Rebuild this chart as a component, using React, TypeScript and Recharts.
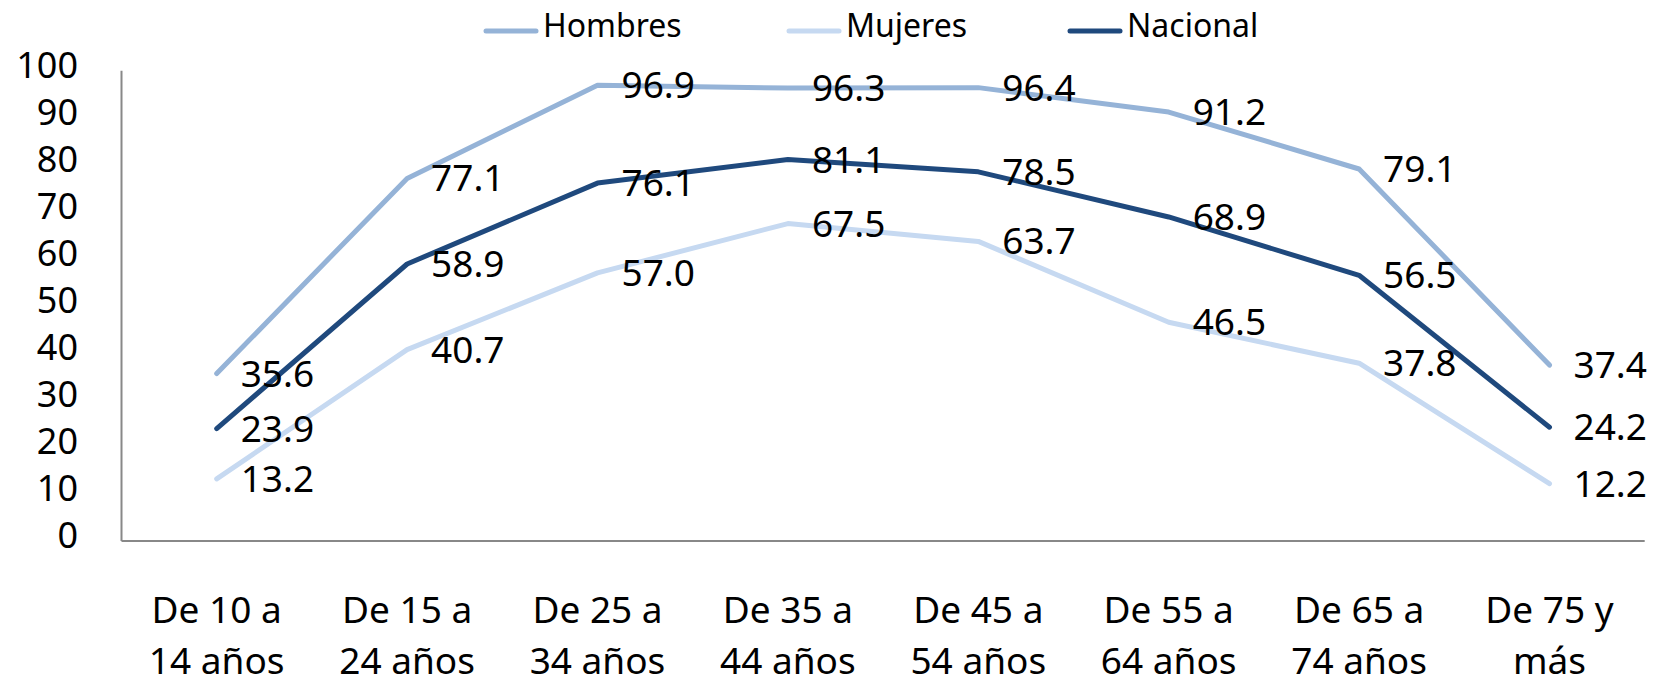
import React from "react";
import { LineChart, Line, XAxis, YAxis, LabelList } from "recharts";

const categories = [
  "De 10 a 14 años",
  "De 15 a 24 años",
  "De 25 a 34 años",
  "De 35 a 44 años",
  "De 45 a 54 años",
  "De 55 a 64 años",
  "De 65 a 74 años",
  "De 75 y más",
];
const tickLines: [string, string][] = [
  ["De 10 a", "14 años"],
  ["De 15 a", "24 años"],
  ["De 25 a", "34 años"],
  ["De 35 a", "44 años"],
  ["De 45 a", "54 años"],
  ["De 55 a", "64 años"],
  ["De 65 a", "74 años"],
  ["De 75 y", "más"],
];
const hombres = [35.6, 77.1, 96.9, 96.3, 96.4, 91.2, 79.1, 37.4];
const mujeres = [13.2, 40.7, 57.0, 67.5, 63.7, 46.5, 37.8, 12.2];
const nacional = [23.9, 58.9, 76.1, 81.1, 78.5, 68.9, 56.5, 24.2];
const yTicks = [0, 10, 20, 30, 40, 50, 60, 70, 80, 90, 100];

const series = [
  { key: "Hombres", values: hombres, color: "#95B3D7" },
  { key: "Mujeres", values: mujeres, color: "#C6D9F1" },
  { key: "Nacional", values: nacional, color: "#1F497D" },
];

const data = categories.map((name, i) => {
  const row: Record<string, string | number> = { name, idx: i };
  series.forEach((s) => (row[s.key] = s.values[i]));
  return row;
});

const FONT = "'Noto Sans', sans-serif";
const W = 1654;
const H = 685;

const YTick = (props: any) => {
  const { x, y, payload } = props;
  return (
    <text x={x - 43.5} y={y + 7} textAnchor="end" fontSize={36} fontFamily={FONT} fill="#000">
      {payload.value}
    </text>
  );
};

const XTick = (props: any) => {
  const { x, y, index } = props;
  const lines = tickLines[index] || ["", ""];
  return (
    <text textAnchor="middle" fontSize={37} fontFamily={FONT} fill="#000">
      <tspan x={x} y={y + 82}>{lines[0]}</tspan>
      <tspan x={x} y={y + 133}>{lines[1]}</tspan>
    </text>
  );
};

const ValueLabel = (props: any) => {
  const { x, y, value } = props;
  return (
    <text x={x + 24} y={y + 13} textAnchor="start" fontSize={37} fontFamily={FONT} fill="#000">
      {Number(value).toFixed(1)}
    </text>
  );
};

const legendX = [483, 786, 1067];

function LegendOverlay() {
  return (
    <svg width={W} height={60} style={{ position: "absolute", left: 0, top: 0 }}>
      {series.map((s, i) => (
        <g key={s.key}>
          <line
            x1={legendX[i] + 3}
            x2={legendX[i] + 53}
            y1={31}
            y2={31}
            stroke={s.color}
            strokeWidth={5}
            strokeLinecap="round"
          />
          <text x={legendX[i] + 60} y={37} fontSize={32} fontFamily={FONT} fill="#000">
            {s.key}
          </text>
        </g>
      ))}
    </svg>
  );
}

export default function App() {
  return (
    <div style={{ position: "absolute", left: 0, top: 0, width: W, height: H, background: "#fff" }}>
      <LineChart
        width={W}
        height={H}
        data={data}
        margin={{ top: 70.7, right: 9.3, bottom: 0, left: 0 }}
      >
        <XAxis
          dataKey="name"
          height={144}
          padding={{ left: 95.2, right: 95.2 }}
          axisLine={{ stroke: "#888888", strokeWidth: 2 }}
          tickLine={false}
          tickSize={0}
          tickMargin={0}
          interval={0}
          tick={<XTick />}
        />
        <YAxis
          width={121.5}
          domain={[0, 100]}
          ticks={yTicks}
          axisLine={{ stroke: "#888888", strokeWidth: 2 }}
          tickLine={false}
          tickSize={0}
          tickMargin={0}
          tick={<YTick />}
        />
        {series.map((s) => (
          <Line
            key={s.key}
            dataKey={s.key}
            stroke={s.color}
            strokeWidth={5}
            strokeLinecap="round"
            strokeLinejoin="round"
            dot={false}
            activeDot={false}
            isAnimationActive={false}
          />
        ))}
        {series.map((s) => (
          <Line
            key={s.key + "-labels"}
            dataKey={s.key}
            stroke="none"
            dot={false}
            activeDot={false}
            legendType="none"
            isAnimationActive={false}
          >
            <LabelList dataKey={s.key} content={<ValueLabel />} />
          </Line>
        ))}
      </LineChart>
      <LegendOverlay />
    </div>
  );
}
